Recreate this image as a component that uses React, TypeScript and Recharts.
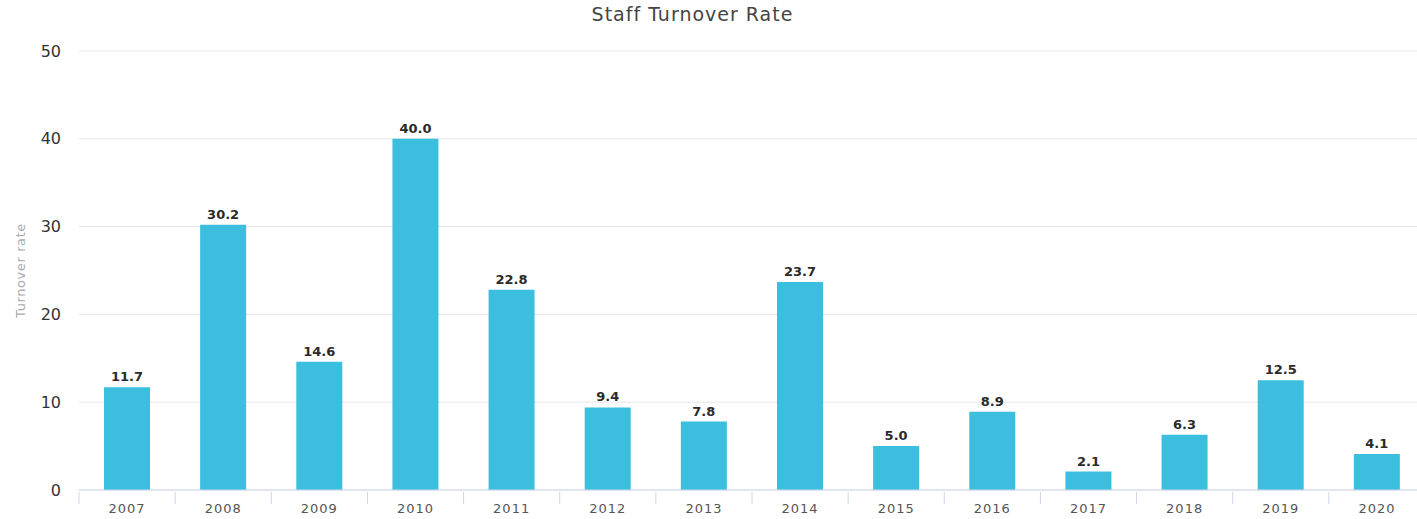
import { BarChart, Bar, XAxis, YAxis, CartesianGrid, LabelList } from "recharts";

const years = ["2007", "2008", "2009", "2010", "2011", "2012", "2013", "2014", "2015", "2016", "2017", "2018", "2019", "2020"];
const turnover = [11.7, 30.2, 14.6, 40.0, 22.8, 9.4, 7.8, 23.7, 5.0, 8.9, 2.1, 6.3, 12.5, 4.1];
const yTicks = [0, 10, 20, 30, 40, 50];

const data = years.map((year, i) => ({ year, rate: turnover[i] }));

const FONT = "'DejaVu Sans', Verdana, sans-serif";
const CHART_W = 1425;
const AXIS_W = 79;
const BAND = (CHART_W - AXIS_W) / years.length;

function YearTick({ x, y, payload }: any) {
  return (
    <g>
      <line x1={x - BAND / 2} x2={x - BAND / 2} y1={y - 6} y2={y + 6} stroke="#ccd6eb" />
      <text x={x} y={y + 15} textAnchor="middle" fontSize={13} fill="#555" letterSpacing={1} fontFamily={FONT}>
        {payload.value}
      </text>
    </g>
  );
}

export default function App() {
  return (
    <div style={{ position: "absolute", top: 0, left: 0, width: 1417, height: 519, overflow: "hidden", background: "#fff" }}>
      <div
        style={{
          position: "absolute",
          top: 3,
          left: 0,
          width: 1385,
          textAlign: "center",
          fontFamily: FONT,
          fontSize: 19,
          letterSpacing: 1,
          color: "#444",
        }}
      >
        Staff Turnover Rate
      </div>
      <BarChart width={CHART_W} height={519} data={data} margin={{ top: 51, right: 0, left: 0, bottom: 0 }} barCategoryGap="26%">
        <CartesianGrid vertical={false} stroke="#e6e6e6" />
        <XAxis
          dataKey="year"
          height={29}
          tickLine={false}
          axisLine={{ stroke: "#ccd6eb" }}
          tick={<YearTick />}
          interval={0}
        />
        <YAxis
          width={AXIS_W}
          domain={[0, 50]}
          ticks={yTicks}
          tickLine={false}
          axisLine={false}
          tickSize={10}
          tickMargin={8}
          tick={{ fontSize: 16, fill: "#333", fontFamily: FONT }}
          label={{
            value: "Turnover rate",
            angle: -90,
            position: "insideLeft",
            offset: 20,
            style: { fontSize: 13, letterSpacing: 0.6, fill: "#aaa", fontFamily: FONT, textAnchor: "middle" },
          }}
        />
        <Bar dataKey="rate" fill="#3cbfdf" isAnimationActive={false}>
          <LabelList
            dataKey="rate"
            position="top"
            offset={6}
            formatter={(v: any) => Number(v).toFixed(1)}
            style={{ fontSize: 13, fill: "#2a2a2a", fontWeight: 600, fontFamily: FONT }}
          />
        </Bar>
      </BarChart>
    </div>
  );
}
